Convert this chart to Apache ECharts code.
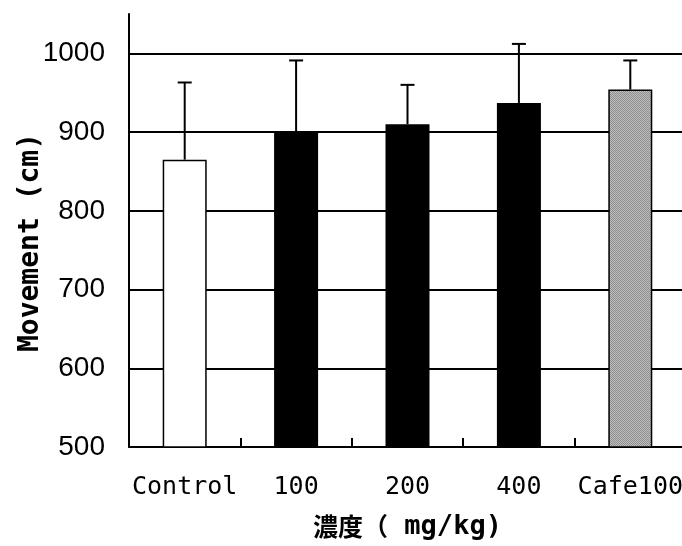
<!DOCTYPE html>
<html>
<head>
<meta charset="utf-8">
<script src="https://cdn.jsdelivr.net/npm/echarts@6/dist/echarts.min.js"></script>
<style>html,body{margin:0;padding:0;background:#fff}#c{width:682px;height:546px}</style>
</head>
<body>
<div id="c"></div>
<script>
const categories = ['Control', '100', '200', '400', 'Cafe100'];
const means = [865, 900, 910, 937, 954];
const errors = [98, 91, 50, 75, 37];
const yTicks = [500, 600, 700, 800, 900, 1000];

// fine grey checker pattern for the Cafe100 bar
const pc = document.createElement('canvas');
pc.width = 2; pc.height = 2;
const pctx = pc.getContext('2d');
pctx.fillStyle = '#bdbdbd'; pctx.fillRect(0, 0, 2, 2);
pctx.fillStyle = '#8f8f8f'; pctx.fillRect(0, 0, 1, 1); pctx.fillRect(1, 1, 1, 1);

const barColors = ['#ffffff', '#000000', '#000000', '#000000', { image: pc, repeat: 'repeat' }];

const chart = echarts.init(document.getElementById('c'), null, { renderer: 'canvas' });
chart.setOption({
  animation: false,
  backgroundColor: '#fff',
  grid: { left: 129, top: 14, width: 557, height: 433, containLabel: false, outerBoundsMode: 'none' },
  xAxis: {
    type: 'category',
    data: categories,
    boundaryGap: true,
    name: '{a|濃度（}{b| mg/kg)}',
    nameLocation: 'middle',
    nameGap: 66,
    nameMoveOverlap: false,
    nameTextStyle: {
      color: '#000', fontSize: 25, fontWeight: 'bold',
      rich: {
        a: { color: '#000', fontSize: 25, fontWeight: 'bold', fontFamily: '"Noto Sans CJK JP", sans-serif' },
        b: { color: '#000', fontSize: 27, fontWeight: 'bold', fontFamily: '"DejaVu Sans Mono", monospace' }
      }
    },
    axisLine: { show: true, lineStyle: { color: '#000', width: 2 } },
    axisTick: { show: true, inside: true, length: 9, alignWithLabel: false, interval: 0, lineStyle: { color: '#000', width: 2 } },
    axisLabel: { color: '#000', fontSize: 25, margin: 28, interval: 0, fontFamily: '"DejaVu Sans Mono", monospace' },
    splitLine: { show: false }
  },
  yAxis: {
    type: 'value',
    min: 500,
    max: 1050,
    interval: 100,
    name: 'Movement (cm)',
    nameLocation: 'middle',
    nameRotate: 90,
    nameGap: 84,
    nameMoveOverlap: false,
    nameTextStyle: { color: '#000', fontSize: 28, fontWeight: 'bold', fontFamily: '"DejaVu Sans Mono", monospace', padding: [0, 24, 0, 0] },
    axisLine: { show: true, lineStyle: { color: '#000', width: 2 } },
    axisTick: { show: true, inside: true, length: 10, lineStyle: { color: '#000', width: 2 } },
    axisLabel: {
      color: '#000', fontSize: 28, margin: 24,
      fontFamily: '"Liberation Sans", Arial, sans-serif',
      showMaxLabel: false,
      formatter: v => (yTicks.indexOf(v) >= 0 ? String(v) : '')
    },
    splitLine: { show: true, showMinLine: false, showMaxLine: false, lineStyle: { color: '#000', width: 2 } }
  },
  series: [
    {
      type: 'bar',
      data: means.map((v, i) => ({ value: v, itemStyle: { color: barColors[i] } })),
      barWidth: 44,
      itemStyle: { borderColor: '#000', borderWidth: 1.5 },
      z: 2
    },
    {
      type: 'custom',
      z: 3,
      data: means.map((v, i) => [i, v, v + errors[i]]),
      renderItem: function (params, api) {
        const x = api.value(0);
        const p0 = api.coord([x, api.value(1)]);
        const p1 = api.coord([x, api.value(2)]);
        const half = 7;
        return {
          type: 'group',
          children: [
            { type: 'line', shape: { x1: p0[0], y1: p0[1], x2: p1[0], y2: p1[1] }, style: { stroke: '#000', lineWidth: 2 } },
            { type: 'line', shape: { x1: p1[0] - half, y1: p1[1], x2: p1[0] + half, y2: p1[1] }, style: { stroke: '#000', lineWidth: 2 } }
          ]
        };
      }
    }
  ]
});
</script>
</body>
</html>
